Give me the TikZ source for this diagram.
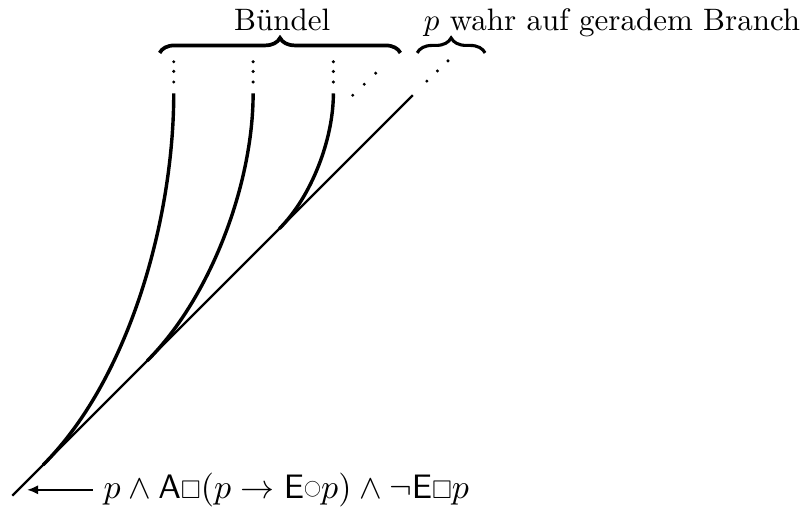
\documentclass[tikz,border=0pt]{standalone}
\usepackage{amssymb}
\usetikzlibrary{calc}
\usetikzlibrary{arrows.meta}
\usetikzlibrary{decorations.pathreplacing}

\begin{document}
\begin{tikzpicture}
		\useasboundingbox (0,0) rectangle (9.15,5.83);
		\coordinate (root) at (0.14,0.21);
		\coordinate (end) at (4.68,4.75);
		\draw[line width=0.7pt] (root) -- (end);
		\foreach \t/\x [count=\i] in {0.077/1.97, 0.337/2.87, 0.667/3.78} {
			\coordinate (base\i) at ($(root)!\t!(end)$);
			\coordinate (top\i) at (\x,4.77);
			\draw[line width=1.1pt] (base\i) to[out=45,in=-90,looseness=0.8] (top\i);
			\foreach \y in {4.90,5.02,5.13} {
				\fill (\x,\y) circle (0.55pt);
			}
		}
		\foreach \k in {0,1,2} {
			\fill ({4.00+0.13*\k},{4.75+0.125*\k}) circle (0.55pt);
			\fill ({4.84+0.12*\k},{4.91+0.115*\k}) circle (0.55pt);
		}
		\draw[decorate, decoration={brace, amplitude=0.17cm}, line width=1.2pt] (1.81,5.23) -- (4.54,5.23);
		\draw[decorate, decoration={brace, amplitude=0.17cm}, line width=1pt] (4.73,5.23) -- (5.50,5.23);
		\node[anchor=base] (bundle) at (3.2,5.48) {Bündel};
		\node[anchor=base west, inner sep=0pt] (branch) at (4.80,5.48) {$p$ wahr auf geradem Branch};
		\node[anchor=base west, font=\fontsize{11}{13}\selectfont] (formula) at (1.05,0.18)
			{$p \wedge \mathsf{A}\mathord{\scalebox{0.75}{$\square$}}(p \rightarrow \mathsf{E}\mathord{\raisebox{1.4pt}{\scalebox{0.5}{$\bigcirc$}}}p) \wedge \neg\mathsf{E}\mathord{\scalebox{0.75}{$\square$}}p$};
		\coordinate (tip) at (0.31,0.25);
		\draw[-{Latex[length=3.5pt,width=3pt]}, line width=0.5pt] (formula.west) -- (tip |- formula.west);
	\end{tikzpicture}
\end{document}
